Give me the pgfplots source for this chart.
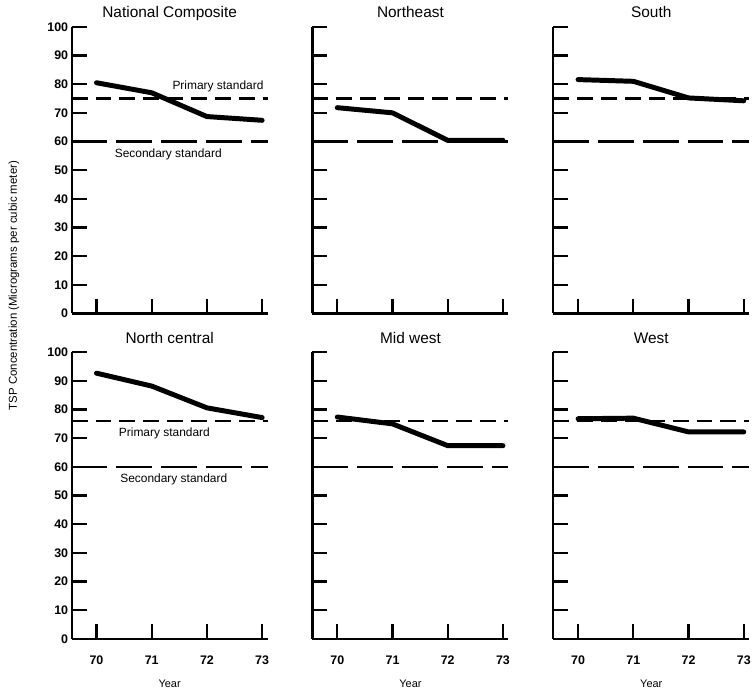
\documentclass[border=0pt]{standalone}
\usepackage{fontspec}
\setmainfont{Liberation Sans}
\usepackage{pgfplots}
\pgfplotsset{compat=1.18}
\usepgfplotslibrary{groupplots}
\usetikzlibrary{calc}

\tikzset{ann/.style={font=\fontsize{12}{14}\selectfont}}
\pgfplotsset{
  panel/.style={
    scale only axis, width=197pt, height=288pt,
    xmin=69.55, xmax=73.1, ymin=0, ymax=100,
    axis x line=bottom, axis y line=left,
    axis line style={-, line width=2.2pt, black},
    xtick={70,71,72,73}, ytick={0,10,...,100},
    tick align=inside, major tick length=15pt,
    every tick/.style={line width=2.2pt, black},
    major tick style={line width=2.2pt, black},
    clip=false,
    title style={at={(0.5,1)}, anchor=base, yshift=3pt, font=\fontsize{15.5}{17}\selectfont},
    ticklabel style={font=\fontsize{12.5}{14}\selectfont\bfseries},
    xticklabel style={yshift=-14pt},
    /pgf/number format/assume math mode=true,
    xlabel style={font=\fontsize{11}{13}\selectfont, yshift=-8pt},
  },
  dat/.style={black, line width=5pt, line cap=round, line join=round},
  prim/.style={black, line width=2.2pt, dash pattern=on 16pt off 8pt},
  sec/.style={black, line width=2.2pt, dash pattern=on 36pt off 9pt},
}

\begin{document}
\begin{tikzpicture}
\begin{groupplot}[
  group style={group size=3 by 2, horizontal sep=45pt, vertical sep=39pt, group name=g},
  panel]
% National Composite
\nextgroupplot[title={National Composite}, xticklabels={}]
\addplot[prim] coordinates {(69.55,75) (73.1,75)};
\addplot[sec] coordinates {(69.55,60) (73.1,60)};
\addplot[dat] coordinates {(70,80.5) (71,77) (72,68.7) (73,67.4)};
\node[ann] at (axis cs:72.2,79.3) {Primary standard};
\node[ann] at (axis cs:71.3,55.5) {Secondary standard};
% Northeast
\nextgroupplot[title={Northeast}, xticklabels={}, yticklabels={}]
\addplot[prim] coordinates {(69.55,75) (73.1,75)};
\addplot[sec] coordinates {(69.55,60) (73.1,60)};
\addplot[dat] coordinates {(70,71.8) (71,70) (72,60.4) (73,60.4)};
% South
\nextgroupplot[title={South}, xticklabels={}, yticklabels={}]
\addplot[prim] coordinates {(69.55,75) (73.1,75)};
\addplot[sec] coordinates {(69.55,60) (73.1,60)};
\addplot[dat] coordinates {(70,81.6) (71,81) (72,75.2) (73,74.2)};
% North central
\nextgroupplot[title={North central}, xticklabels={70,71,72,73}, xlabel={Year}]
\addplot[prim] coordinates {(69.55,76) (73.1,76)};
\addplot[sec] coordinates {(69.55,60) (73.1,60)};
\addplot[dat] coordinates {(70,92.7) (71,88.2) (72,80.6) (73,77.2)};
\node[ann] at (axis cs:71.23,71.8) {Primary standard};
\node[ann] at (axis cs:71.4,55.6) {Secondary standard};
% Mid west
\nextgroupplot[title={Mid west}, xticklabels={70,71,72,73}, yticklabels={}, xlabel={Year}]
\addplot[prim] coordinates {(69.55,76) (73.1,76)};
\addplot[sec] coordinates {(69.55,60) (73.1,60)};
\addplot[dat] coordinates {(70,77.4) (71,75) (72,67.4) (73,67.4)};
% West
\nextgroupplot[title={West}, xticklabels={70,71,72,73}, yticklabels={}, xlabel={Year}]
\addplot[prim] coordinates {(69.55,76) (73.1,76)};
\addplot[sec] coordinates {(69.55,60) (73.1,60)};
\addplot[dat] coordinates {(70,76.8) (71,77) (72,72.2) (73,72.2)};
\end{groupplot}
\node[rotate=90, font=\fontsize{11.5}{13}\selectfont] at ($(g c1r1.south west)+(-58pt,28pt)$) {TSP Concentration (Micrograms per cubic meter)};
\path[use as bounding box] ($(g c1r2.south west)+(-72pt,-51pt)$) rectangle ($(g c1r1.north west)+(682pt,27pt)$);
\end{tikzpicture}
\end{document}
